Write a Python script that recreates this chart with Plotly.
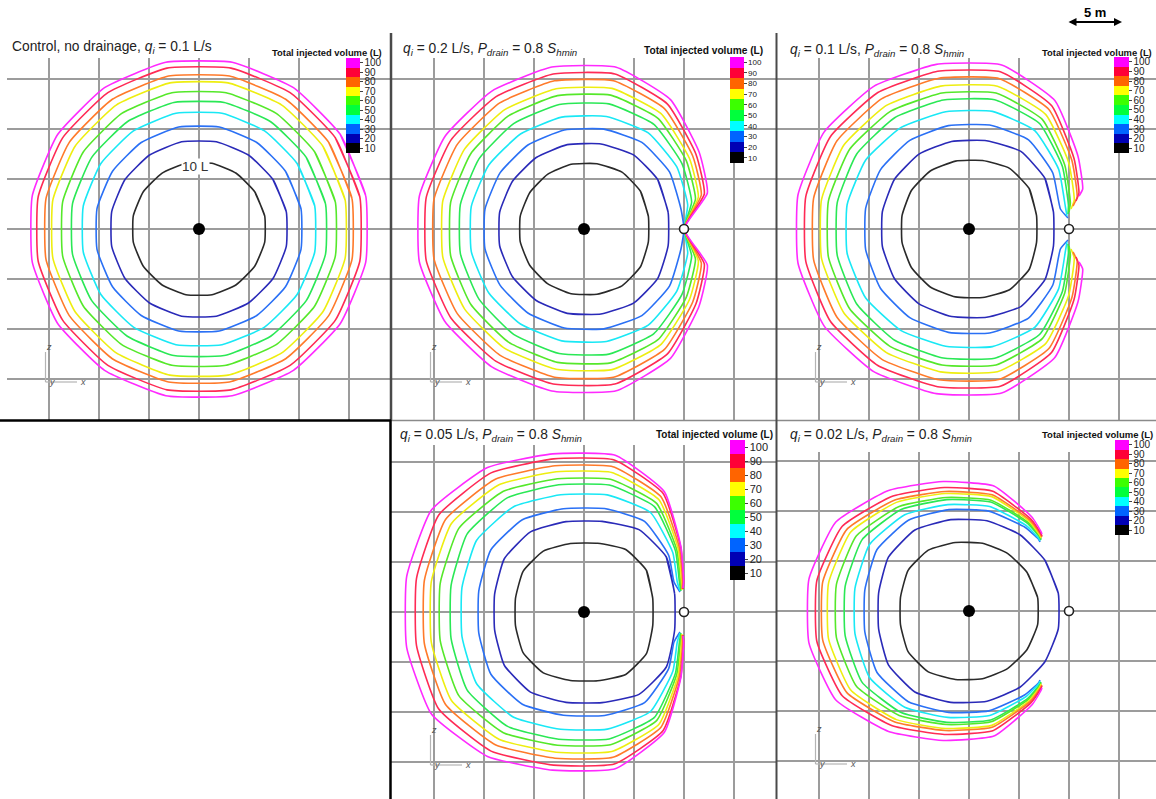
import numpy as np
import plotly.graph_objects as go

W, H = 1156, 799

# ---------------- data (metres; grid = 5 m) ----------------
levels = [10, 20, 30, 40, 50, 60, 70, 80, 90, 100]
bar_colors = ["#000000", "#0000b4", "#0064ff", "#00ffff", "#00ff3c",
              "#3cff00", "#ffff00", "#ff6400", "#ff0037", "#ff00ff"]
line_colors = ["#2a2a2a", "#2a2ab8", "#2a70f5", "#19e8f5", "#2ae855",
               "#55e82a", "#eeee10", "#ff7a2a", "#ff2a55", "#ff2aff"]

titles = [
    "Control, no drainage, <i>q<sub>i</sub></i> = 0.1 L/s",
    "<i>q<sub>i</sub></i> = 0.2 L/s, <i>P<sub>drain</sub></i> = 0.8 <i>S<sub>hmin</sub></i>",
    "<i>q<sub>i</sub></i> = 0.1 L/s, <i>P<sub>drain</sub></i> = 0.8 <i>S<sub>hmin</sub></i>",
    "<i>q<sub>i</sub></i> = 0.05 L/s, <i>P<sub>drain</sub></i> = 0.8 <i>S<sub>hmin</sub></i>",
    "<i>q<sub>i</sub></i> = 0.02 L/s, <i>P<sub>drain</sub></i> = 0.8 <i>S<sub>hmin</sub></i>",
]
drain_x = 10.0

# panel 1: control
p1_left = [6.7, 8.9, 10.4, 11.8, 12.9, 13.9, 14.9, 15.6, 16.4, 17.0]
p1_top = [6.7, 8.9, 10.4, 11.8, 12.9, 13.9, 14.9, 15.6, 16.4, 17.0]
p1_right = [6.7, 8.9, 10.4, 11.8, 12.9, 13.9, 14.9, 15.6, 16.4, 17.0]

# panel 2: q = 0.2 L/s
p2_left = [6.5, 8.6, 10.1, 11.5, 12.6, 13.6, 14.4, 15.3, 16.1, 16.8]
p2_top = [6.6, 8.6, 10.1, 11.4, 12.7, 13.6, 14.3, 15.1, 15.8, 16.5]
p2_right = [6.5, 8.5, 9.8, 10.5, 10.9, 11.3, 11.6, 11.9, 12.2, 12.5]
p2_cut = [None, None, 2.0, 2.4, 2.7, 3.0, 3.2, 3.4, 3.5, 3.6]
p2_end_x = [None, None, 10.0, 10.0, 10.0, 10.0, 10.0, 10.0, 10.0, 10.0]
p2_end_y = [None, None, 0.0, 0.0, 0.0, 0.0, 0.0, 0.0, 0.0, 0.0]

# panel 3: q = 0.1 L/s
p3_left = [6.8, 8.8, 10.5, 12.4, 13.4, 14.3, 15.0, 15.8, 16.6, 17.4]
p3_top = [6.9, 8.9, 10.5, 11.9, 13.1, 13.8, 14.5, 15.3, 16.0, 16.7]
p3_right = [6.8, 8.5, 9.2, 9.7, 10.0, 10.2, 10.6, 10.9, 11.1, 11.5]
p3_cut = [None, None, 2.0, 2.2, 2.4, 2.6, 2.9, 3.2, 3.6, 4.0]
p3_end_x = [None, None, 9.9, 9.8, 9.9, 10.0, 10.2, 10.4, 10.7, 11.0]
p3_end_y = [None, None, 1.1, 1.3, 1.5, 1.7, 2.0, 2.3, 2.8, 3.3]

# panel 4: q = 0.05 L/s
p4_left = [6.9, 9.0, 10.6, 12.3, 13.4, 14.5, 15.4, 16.1, 16.9, 17.9]
p4_top = [6.9, 9.1, 10.4, 11.8, 12.8, 13.4, 14.1, 14.7, 15.4, 15.9]
p4_right = [6.9, 9.1, 9.1, 9.4, 9.6, 9.7, 9.8, 9.9, 10.0, 10.0]
p4_cut = [None, None, 3.0, 3.0, 3.0, 3.0, 3.0, 3.0, 3.0, 3.0]
p4_end_x = [None, None, 9.6, 9.6, 9.7, 9.7, 9.8, 9.8, 9.9, 9.9]
p4_end_y = [None, None, 2.0, 2.1, 2.1, 2.2, 2.2, 2.3, 2.3, 2.4]

# panel 5: q = 0.02 L/s
p5_left = [6.9, 9.1, 10.5, 11.5, 12.5, 13.4, 14.2, 14.8, 15.4, 16.2]
p5_top = [6.9, 9.2, 10.2, 10.7, 11.2, 11.4, 11.8, 12.0, 12.4, 13.0]
p5_right = [7.0, 9.1, 9.8, 9.5, 9.4, 9.4, 9.25, 9.3, 9.2, 9.1]
p5_cut = [None, None, 7.2, 7.3, 7.4, 7.5, 7.6, 7.7, 7.8, 8.0]
p5_end_x = [None, None, 7.1, 7.1, 7.2, 7.2, 7.2, 7.3, 7.3, 7.3]
p5_end_y = [None, None, 6.9, 7.0, 7.1, 7.2, 7.3, 7.4, 7.5, 7.7]

# ---------------- layout of the five panels (pixels) ----------------
panels = [
    dict(left=p1_left, top=p1_top, right=p1_right, cut=None, ex=None, ey=None,
         pl=2.0, pr=2.0, drain=False,
         px=(7, 390), py=(58, 420), cx=199, cy=229,
         cb=(346, 58, 95, 14, 10), cbt=(384, 52, 9.4), tt=(10, 47)),
    dict(left=p2_left, top=p2_top, right=p2_right, cut=p2_cut, ex=p2_end_x, ey=p2_end_y,
         pl=2.0, pr=2.3, drain=True,
         px=(391, 776), py=(58, 420), cx=584, cy=229,
         cb=(730, 57, 106, 14, 8), cbt=(765, 51, 10.2), tt=(401, 49)),
    dict(left=p3_left, top=p3_top, right=p3_right, cut=p3_cut, ex=p3_end_x, ey=p3_end_y,
         pl=2.1, pr=2.5, drain=True,
         px=(777, 1156), py=(58, 420), cx=969, cy=229,
         cb=(1114, 57, 96, 15, 10), cbt=(1154, 52, 9.4), tt=(788, 51)),
    dict(left=p4_left, top=p4_top, right=p4_right, cut=p4_cut, ex=p4_end_x, ey=p4_end_y,
         pl=2.5, pr=2.8, drain=True,
         px=(391, 776), py=(445, 799), cx=584, cy=612,
         cb=(730, 440, 140, 15, 11), cbt=(775, 434, 10.0), tt=(398, 435)),
    dict(left=p5_left, top=p5_top, right=p5_right, cut=p5_cut, ex=p5_end_x, ey=p5_end_y,
         pl=2.5, pr=2.0, drain=True,
         px=(777, 1156), py=(452, 799), cx=969, cy=611,
         cb=(1115, 440, 95, 14, 10), cbt=(1155, 434, 9.5), tt=(788, 435)),
]

ANG = np.deg2rad(11.25 + 22.5 * np.arange(16))  # mesh-like 16-gon vertices


def radius(th, aL, b, aR, pL, pR):
    c, s = np.cos(th), np.sin(th)
    a, p = (aR, pR) if c >= 0 else (aL, pL)
    return 1.0 / ((abs(c) / a) ** p + (abs(s) / b) ** p) ** (1.0 / p)


def contour_xy(aL, b, aR, pL, pR, yc=None, xe=None, ye=None):
    pts = []
    for th in ANG:
        r = radius(th, aL, b, aR, pL, pR)
        pts.append((r * np.cos(th), r * np.sin(th)))
    if yc is None:
        pts = pts + pts[:2]
    else:
        kept = [(x, y) for (x, y) in pts if not (x > 0 and abs(y) < yc)]
        xc = aR * (1 - (yc / b) ** pR) ** (1.0 / pR)
        pts = [(xe, ye), (xc, yc)] + kept + [(xc, -yc), (xe, -ye)]
    xs = [p[0] for p in pts]
    ys = [p[1] for p in pts]
    return xs, ys


fig = go.Figure()
layout = dict(width=W, height=H, margin=dict(l=0, r=0, t=0, b=0),
              paper_bgcolor="white", plot_bgcolor="white", showlegend=False)
annotations = []
shapes = []

colorscale = []
for i, c in enumerate(bar_colors):
    colorscale.append([i / 10, c])
    colorscale.append([(i + 1) / 10, c])

FONT = "Liberation Sans"

for n, P in enumerate(panels):
    idx = "" if n == 0 else str(n + 1)
    xa, ya = "x" + idx, "y" + idx
    x0, x1 = P["px"]
    y0, y1 = P["py"]
    layout["xaxis" + idx] = dict(
        domain=[x0 / W, x1 / W], range=[(x0 - P["cx"]) / 10, (x1 - P["cx"]) / 10],
        showticklabels=False, ticks="", zeroline=False, showline=False,
        showgrid=True, gridcolor="#9c9c9c", gridwidth=1.5, dtick=5, tick0=0,
        anchor=ya, fixedrange=True)
    layout["yaxis" + idx] = dict(
        domain=[1 - y1 / H, 1 - y0 / H], range=[(P["cy"] - y1) / 10, (P["cy"] - y0) / 10],
        showticklabels=False, ticks="", zeroline=False, showline=False,
        showgrid=True, gridcolor="#9c9c9c", gridwidth=1.5, dtick=5, tick0=0,
        anchor=xa, fixedrange=True)

    for k, lev in enumerate(levels):
        cut = P["cut"][k] if P["cut"] else None
        if cut is None:
            xs, ys = contour_xy(P["left"][k], P["top"][k], P["right"][k], P["pl"], P["pr"])
        else:
            xs, ys = contour_xy(P["left"][k], P["top"][k], P["right"][k], P["pl"], P["pr"],
                                cut, P["ex"][k], P["ey"][k])
        fig.add_trace(go.Scatter(x=xs, y=ys, mode="lines", xaxis=xa, yaxis=ya,
                                 line=dict(color=line_colors[k], width=1.6,
                                           shape="spline", smoothing=0.45),
                                 hoverinfo="skip", name=f"{lev} L"))

    # injection point
    fig.add_trace(go.Scatter(x=[0], y=[0], mode="markers", xaxis=xa, yaxis=ya,
                             marker=dict(size=12, color="black"), hoverinfo="skip"))
    if P["drain"]:
        fig.add_trace(go.Scatter(x=[drain_x], y=[0], mode="markers", xaxis=xa, yaxis=ya,
                                 marker=dict(size=9, color="white",
                                             line=dict(color="#222", width=1.6)),
                                 hoverinfo="skip"))

    # colour bar
    bx, by, blen, bth, bfs = P["cb"]
    fig.add_trace(go.Scatter(
        x=[-100, -100], y=[-100, -100], mode="markers", xaxis=xa, yaxis=ya,
        hoverinfo="skip",
        marker=dict(size=1, opacity=0, color=[5, 105], cmin=5, cmax=105,
                    colorscale=colorscale, showscale=True,
                    colorbar=dict(x=bx / W, xanchor="left", y=1 - by / H, yanchor="top",
                                  len=blen, lenmode="pixels", thickness=bth,
                                  thicknessmode="pixels", xpad=0, ypad=0,
                                  outlinewidth=0, borderwidth=0,
                                  tickvals=levels, ticktext=[str(v) for v in levels],
                                  ticks="outside", ticklen=3, tickwidth=1,
                                  tickcolor="#444",
                                  tickfont=dict(size=bfs, family=FONT, color="#222")))))
    tx, ty, tfs = P["cbt"]
    annotations.append(dict(x=tx / W, y=1 - ty / H, xref="paper", yref="paper",
                            xanchor="right", yanchor="middle", showarrow=False,
                            text="<b>Total injected volume (L)</b>",
                            font=dict(size=tfs, family=FONT, color="#111")))
    # panel title
    annotations.append(dict(x=P["tt"][0] / W, y=1 - P["tt"][1] / H, xref="paper",
                            yref="paper", xanchor="left", yanchor="middle",
                            showarrow=False, text=titles[n],
                            font=dict(size=13.8, family=FONT, color="#222")))
    # axis triad
    shapes.append(dict(type="line", xref=xa, yref=ya, x0=-15.35, y0=-15.3,
                       x1=-15.35, y1=-12.3, line=dict(color="#b4b4b4", width=1.2)))
    shapes.append(dict(type="line", xref=xa, yref=ya, x0=-15.35, y0=-15.3,
                       x1=-12.2, y1=-15.3, line=dict(color="#b4b4b4", width=1.2)))
    for lab, lx, ly in [("z", -15.0, -11.8), ("y", -14.7, -15.3), ("x", -11.6, -15.3)]:
        annotations.append(dict(x=lx, y=ly, xref=xa, yref=ya, text=f"<i>{lab}</i>",
                                showarrow=False, font=dict(size=9, family=FONT, color="#555")))

# 10 L label in the control panel
annotations.append(dict(x=-0.4, y=6.3, xref="x", yref="y", text="10 L", showarrow=False,
                        bgcolor="white", borderpad=0,
                        font=dict(size=13.5, family=FONT, color="#333")))

# scale bar
annotations.append(dict(x=1122 / W, y=1 - 22 / H, xref="paper", yref="paper",
                        ax=-55, ay=0, text="", showarrow=True, arrowhead=2,
                        startarrowhead=2, arrowside="end+start", arrowwidth=2,
                        arrowsize=0.8, arrowcolor="black"))
annotations.append(dict(x=1095 / W, y=1 - 4 / H, xref="paper", yref="paper",
                        xanchor="center", yanchor="top",
                        text="<b>5 m</b>", showarrow=False, borderpad=0,
                        font=dict(size=13, family=FONT, color="black")))


# panel frames
def pline(xa0, ya0, xa1, ya1, color, width):
    shapes.append(dict(type="line", xref="paper", yref="paper",
                       x0=xa0 / W, y0=1 - ya0 / H, x1=xa1 / W, y1=1 - ya1 / H,
                       line=dict(color=color, width=width)))


pline(391, 420.5, 1156, 420.5, "#8a8a8a", 1.5)
pline(391, 33, 391, 420, "#4a4a4a", 2.5)
pline(776.5, 33, 776.5, 799, "#4a4a4a", 2)
pline(0, 420.5, 391, 420.5, "black", 2.5)
pline(390.5, 420, 390.5, 799, "black", 2.5)

layout["annotations"] = annotations
layout["shapes"] = shapes
fig.update_layout(**layout)
fig.write_html("out.html", config={"displayModeBar": False},
               post_script="document.body.style.margin='0';"
                           "document.body.style.overflow='hidden';")
